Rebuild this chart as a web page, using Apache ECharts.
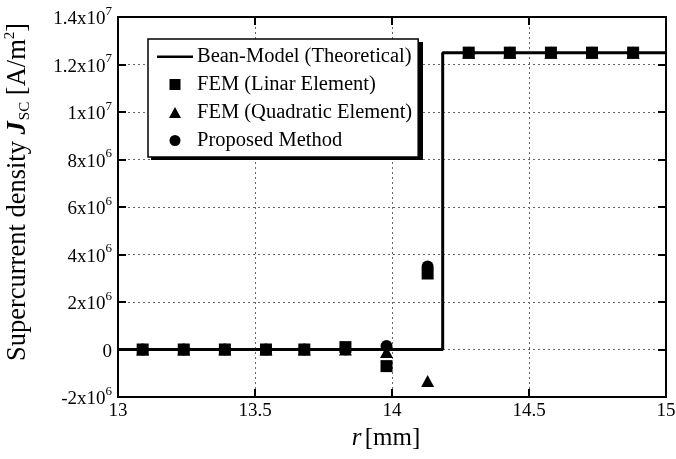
<!DOCTYPE html>
<html><head><meta charset="utf-8">
<script src="https://cdn.jsdelivr.net/npm/echarts@6/dist/echarts.min.js"></script>
<style>html,body{margin:0;padding:0;background:#fff}#c{width:676px;height:459px}</style>
</head><body><div id="c"></div>
<script>
// Data
const rValues = [13.09, 13.24, 13.39, 13.54, 13.68, 13.83, 13.98, 14.13, 14.28, 14.43, 14.58, 14.73, 14.88];
const femLinear = [0, 0, 0, 0, 0, 1.0e5, -7.0e5, 3.2e6, 1.25e7, 1.25e7, 1.25e7, 1.25e7, 1.25e7];
const femQuadratic = [0, 0, 0, 0, 0, 0, -1.0e5, -1.33e6, 1.25e7, 1.25e7, 1.25e7, 1.25e7, 1.25e7];
const proposed = [0, 0, 0, 0, 0, 0, 1.5e5, 3.5e6, 1.25e7, 1.25e7, 1.25e7, 1.25e7, 1.25e7];
const beanR = [13, 14.185, 14.185, 15];
const beanJ = [0, 0, 1.25e7, 1.25e7];
const xTicks = [13, 13.5, 14, 14.5, 15];
const yTickValues = [-2e6, 0, 2e6, 4e6, 6e6, 8e6, 1e7, 1.2e7, 1.4e7];
const yTickMant = ['-2x10', '0', '2x10', '4x10', '6x10', '8x10', '1x10', '1.2x10', '1.4x10'];
const yTickExp = ['6', '', '6', '6', '6', '6', '7', '7', '7'];
const seriesNames = ['Bean-Model (Theoretical)', 'FEM (Linar Element)', 'FEM (Quadratic Element)', 'Proposed Method'];

const FONT = '"Liberation Serif", "DejaVu Serif", serif';
const zip = (a, b) => a.map((v, i) => [v, b[i]]);

// legend icons drawn in a 36x12 box
const ICON_LINE = 'path://M0,0 M36,12 M0,5 L36,5 L36,7.5 L0,7.5 Z';
const ICON_SQUARE = 'path://M0,0 M36,12 M12.5,0.5 L23.5,0.5 L23.5,11.5 L12.5,11.5 Z';
const ICON_TRI = 'path://M0,0 M36,12 M12,11.5 L18,0.5 L24,11.5 Z';
const ICON_CIRC = 'path://M0,0 M36,12 M12.5,6 A5.5,5.5 0 1,0 23.5,6 A5.5,5.5 0 1,0 12.5,6 Z';

const chart = echarts.init(document.getElementById('c'));
const gridLine = { show: true, lineStyle: { color: '#666', type: [2, 3], width: 1 } };
const tick = { show: true, inside: true, length: 8, lineStyle: { color: '#000', width: 2 } };
const axLine = { show: true, onZero: false, lineStyle: { color: '#000', width: 2 } };

chart.setOption({
  animation: false,
  backgroundColor: '#fff',
  grid: { left: 118, right: 10, top: 17, bottom: 62, outerBoundsMode: 'none', containLabel: false },
  graphic: [{
    type: 'rect', left: 151, top: 42, z: 5,
    shape: { width: 272, height: 118 },
    style: { fill: '#000' }
  }],
  legend: {
    left: 148, top: 39, orient: 'vertical', z: 6,
    padding: [7, 6, 6, 9], itemGap: 7,
    itemWidth: 36, itemHeight: 12,
    backgroundColor: '#fff', borderColor: '#000', borderWidth: 1.5,
    textStyle: { fontFamily: FONT, fontSize: 20.5, color: '#000', padding: [0, 0, 0, -1] },
    itemStyle: { color: '#000' },
    data: [
      { name: seriesNames[0], icon: ICON_LINE },
      { name: seriesNames[1], icon: ICON_SQUARE },
      { name: seriesNames[2], icon: ICON_TRI },
      { name: seriesNames[3], icon: ICON_CIRC }
    ]
  },
  xAxis: [{
    type: 'value', min: 13, max: 15, interval: 0.5,
    axisLine: axLine, axisTick: tick, splitLine: gridLine,
    axisLabel: { fontFamily: FONT, fontSize: 19, color: '#000', margin: 5,
      formatter: v => { const i = xTicks.findIndex(t => Math.abs(t - v) < 1e-9); return i >= 0 ? String(xTicks[i]) : ''; } },
    name: '{i|r} {n|[mm]}', nameLocation: 'middle', nameGap: 27,
    nameTextStyle: { padding: [0, 12, 0, 0], rich: { i: { fontFamily: FONT, fontSize: 25, fontStyle: 'italic', color: '#000' }, n: { fontFamily: FONT, fontSize: 25, color: '#000' } } }
  }, {
    type: 'value', position: 'top', min: 13, max: 15, interval: 0.5,
    axisLine: axLine, axisTick: tick, splitLine: { show: false }, axisLabel: { show: false }
  }],
  yAxis: [{
    type: 'value', min: -2e6, max: 1.4e7, interval: 2e6,
    axisLine: axLine, axisTick: tick, splitLine: gridLine,
    axisLabel: {
      margin: 6,
      formatter: v => {
        const i = yTickValues.findIndex(t => Math.abs(t - v) < 1);
        if (i < 0) return '';
        return yTickExp[i] ? '{b|' + yTickMant[i] + '}{s|' + yTickExp[i] + '}' : '{b|' + yTickMant[i] + '}';
      },
      rich: {
        b: { fontFamily: FONT, fontSize: 19, color: '#000', lineHeight: 24, verticalAlign: 'bottom' },
        s: { fontFamily: FONT, fontSize: 13, color: '#000', lineHeight: 24, verticalAlign: 'top', padding: [0, 0, 9, 0] }
      }
    },
    name: '{n|Supercurrent density }{j|J}{sub|SC}{n| [A/m}{sup|2}{n|]}',
    nameLocation: 'middle', nameGap: 85,
    nameTextStyle: { padding: [0, 0, 0, 30], rich: {
      n: { fontFamily: FONT, fontSize: 26.5, color: '#000', lineHeight: 30, verticalAlign: 'middle' },
      j: { fontFamily: FONT, fontSize: 26.5, fontStyle: 'italic', fontWeight: 'bold', color: '#000', lineHeight: 30, verticalAlign: 'middle' },
      sub: { fontFamily: FONT, fontSize: 15, color: '#000', lineHeight: 30, verticalAlign: 'bottom', padding: [10, 0, 0, 1] },
      sup: { fontFamily: FONT, fontSize: 15, color: '#000', lineHeight: 30, verticalAlign: 'top', padding: [0, 0, 12, 0] }
    } }
  }, {
    type: 'value', position: 'right', min: -2e6, max: 1.4e7, interval: 2e6,
    axisLine: axLine, axisTick: tick, splitLine: { show: false }, axisLabel: { show: false }
  }],
  series: [
    { name: seriesNames[0], type: 'line', data: zip(beanR, beanJ), symbol: 'none', showSymbol: false,
      lineStyle: { color: '#000', width: 3 }, itemStyle: { color: '#000' }, z: 2 },
    { name: seriesNames[2], type: 'scatter', data: zip(rValues, femQuadratic), symbol: 'triangle', symbolSize: [13, 12],
      itemStyle: { color: '#000', opacity: 1 }, z: 3 },
    { name: seriesNames[3], type: 'scatter', data: zip(rValues, proposed), symbol: 'circle', symbolSize: 12,
      itemStyle: { color: '#000', opacity: 1 }, z: 3 },
    { name: seriesNames[1], type: 'scatter', data: zip(rValues, femLinear), symbol: 'rect', symbolSize: 12,
      itemStyle: { color: '#000', opacity: 1 }, z: 4 }
  ]
});
</script></body></html>
